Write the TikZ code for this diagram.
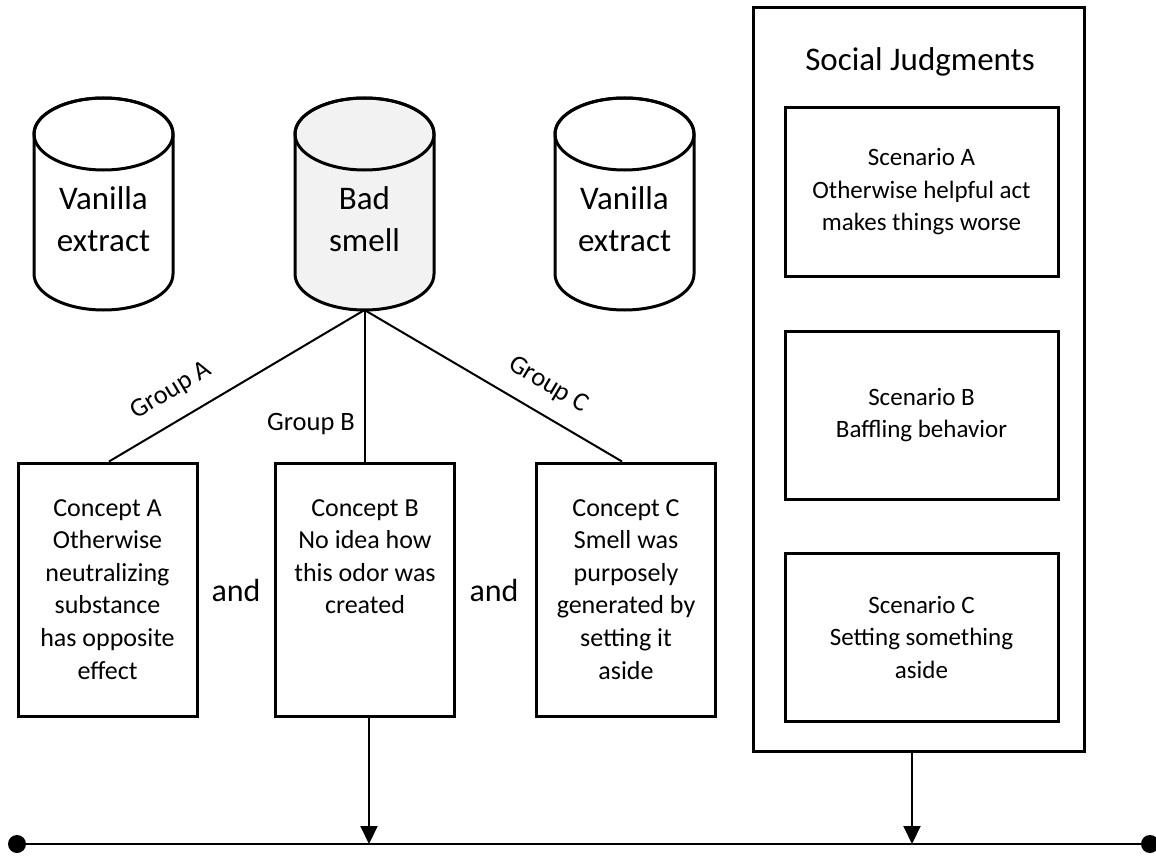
\documentclass[tikz,border=0pt]{standalone}
\usepackage{fontspec}
\setmainfont{Carlito}
\usetikzlibrary{arrows.meta,calc}
\newcommand\drawcyl[2]{%
 \filldraw[cyl, fill=#2] (#1-69.5,-134) -- (#1-69.5,-274) arc[start angle=180,end angle=360,x radius=69.5,y radius=36] -- (#1+69.5,-134) arc[start angle=0, end angle=180, x radius=69.5, y radius=36] -- cycle;
 \draw[cyl] (#1,-134) ellipse[x radius=69.5, y radius=36];
}
\definecolor{badfill}{HTML}{F2F2F2}
\begin{document}
\begin{tikzpicture}[x=1pt,y=1pt,
  box/.style={draw, line width=3pt, minimum width=179pt, minimum height=253pt, inner sep=0pt},
  sbox/.style={draw, line width=3pt, minimum width=273pt, minimum height=168pt, align=center, inner sep=0pt, font=\fontsize{25}{32.5}\selectfont},
  conn/.style={line width=2pt},
  arr/.style={line width=2pt, -{Triangle[length=18pt,width=17pt]}},
  cyl/.style={line width=3pt},
  ctext/.style={align=center, inner sep=0pt, font=\fontsize{26}{32.6}\selectfont},
  cylt/.style={align=center, inner sep=0pt, font=\fontsize{33}{42}\selectfont},
  glab/.style={inner sep=0pt, font=\fontsize{26.5}{30}\selectfont},
  andt/.style={inner sep=0pt, font=\fontsize{32}{38}\selectfont},
]
\useasboundingbox (0,0) rectangle (1156,-856);

% cylinders
\drawcyl{103.5}{white}
\drawcyl{364.5}{badfill}
\drawcyl{624.5}{white}
\node[cylt] (v1) at (103.5,-219) {Vanilla\\extract};
\node[cylt] (bad) at (364.5,-219) {Bad\\smell};
\node[cylt] (v2) at (624.5,-219) {Vanilla\\extract};
\coordinate (bs) at (364.5,-310);

% concept boxes
\node[box] (cA) at (107.5,-589.5) {};
\node[box] (cB) at (365,-589.5) {};
\node[box] (cC) at (626,-589.5) {};
\node[ctext, anchor=north] (tA) at (107.5,-499) {Concept A\\Otherwise\\neutralizing\\substance\\has opposite\\effect};
\node[ctext, anchor=north] (tB) at (365,-499) {Concept B\\No idea how\\this odor was\\created};
\node[ctext, anchor=north] (tC) at (626,-499) {Concept C\\Smell was\\purposely\\generated by\\setting it\\aside};
\node[andt] (and1) at (236,-591) {and};
\node[andt] (and2) at (494,-591) {and};

% connectors from bad smell
\draw[conn] (bs) -- ($(cA.north)+(1.5,0)$);
\draw[conn] (bs) -- (bs |- cB.north);
\draw[conn] (bs) -- ($(cC.north)+(-4,0)$);
\node[glab, rotate=31] (gA) at (171,-391) {Group A};
\node[glab] (gB) at (311,-424) {Group B};
\node[glab, rotate=-31] (gC) at (548,-385) {Group C};

% social judgments
\node[draw, line width=3pt, minimum width=331pt, minimum height=743pt, inner sep=0pt] (sj) at (918.5,-379.5) {};
\node[inner sep=0pt, anchor=base, font=\fontsize{33}{39}\selectfont] (sjt) at (920,-71) {Social Judgments};
\node[sbox] (sA) at (921.5,-192) {Scenario A\\Otherwise helpful act\\makes things worse};
\node[sbox] (sB) at (921.5,-415) {Scenario B\\Baffling behavior};
\node[sbox] (sC) at (921.5,-637) {Scenario C\\Setting something\\aside};

% timeline
\coordinate (tl) at (17,-844);
\coordinate (tr) at (1150,-844);
\coordinate (t1) at (369,-844);
\coordinate (t2) at (912,-844);
\draw[line width=2.5pt] (tl) -- (tr);
\fill (tl) circle[radius=9];
\fill (tr) circle[radius=9];
\draw[arr] (cB.south -| t1) -- (t1);
\draw[arr] (sj.south -| t2) -- (t2);
\end{tikzpicture}
\end{document}
